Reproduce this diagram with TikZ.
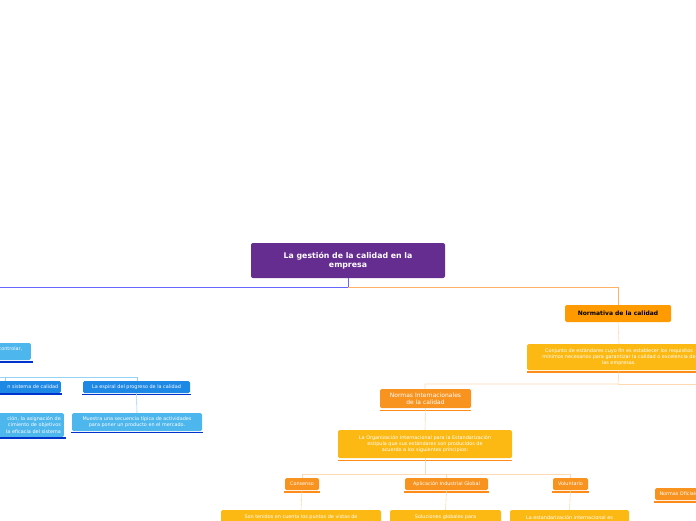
\documentclass[tikz,border=0pt]{standalone}
\usepackage{fontspec}
\setmainfont{DejaVu Sans}
\usetikzlibrary{positioning}
\definecolor{rootpurple}{HTML}{662D91}
\definecolor{orgA}{HTML}{FF9A00}
\definecolor{orgB}{HTML}{F7931E}
\definecolor{yelB}{HTML}{FDB913}
\definecolor{bluA}{HTML}{1E88E5}
\definecolor{bluL}{HTML}{4DB6EC}
\definecolor{bluD}{HTML}{0033CC}
\begin{document}
\begin{tikzpicture}[x=1pt,y=-1pt,
        % styles of the boxes
        rootnode/.style={rectangle, rounded corners=2pt, fill=rootpurple, text=white, font=\bfseries\fontsize{7.8}{9.5}\selectfont, align=center, minimum width=194pt, minimum height=35pt},
        topicnode/.style={rectangle, rounded corners=1.5pt, fill=orgA, text=black, font=\bfseries\fontsize{6}{7}\selectfont, minimum width=106pt, minimum height=17pt},
        ornode/.style={rectangle, rounded corners=1.5pt, fill=orgB, text=white, font=\fontsize{4.9}{5.8}\selectfont, align=center, inner sep=1.5pt},
        yenode/.style={rectangle, rounded corners=1.5pt, fill=yelB, text=white, font=\fontsize{4.9}{6.2}\selectfont, align=center, inner sep=1.5pt},
        blnode/.style={rectangle, rounded corners=1.5pt, fill=bluA, text=white, font=\fontsize{4.9}{5.8}\selectfont, align=center, inner sep=1.5pt},
        lbnode/.style={rectangle, rounded corners=1.5pt, fill=bluL, text=white, font=\fontsize{4.9}{6.2}\selectfont, align=center, inner sep=1.5pt},
        % lines
        oline/.style={draw=orange!60, line width=0.6pt},
        yline/.style={draw=orange!30, line width=0.6pt},
        bline/.style={draw=blue!60, line width=0.6pt},
        lbline/.style={draw=bluL!60, line width=0.6pt}
    ]
    \useasboundingbox (0,0) rectangle (696,520);

    % Root
    \node[rootnode] (root) at (348,260.5) {La gestión de la calidad en la\\empresa};
    \coordinate (rj) at (348,287);
    \draw[bline] (root.south) -- (rj) -- (-10,287);
    \draw[oline] (rj) -- (618,287) -- (618,305);

    % Orange branch
    \node[topicnode] (norm) at (618,313.5) {Normativa de la calidad};
    \node[yenode, minimum width=184pt, minimum height=26pt] (conj) at (619,357)
        {Conjunto de estándares cuyo fin es establecer los requisitos\\mínimos necesarios para garantizar la calidad o excelencia de\\las empresas.};
    \fill[orange!90] (conj.south west) ++(0,1) rectangle ([yshift=-2.5pt]conj.south east);
    \draw[yline] (norm.south) -- (conj.north);
    \coordinate (cj) at (618,384);
    \draw[yline] (conj.south) -- (cj) -- (425,384) -- (425,389);
    \draw[yline] (cj) -- (700,384);

    \node[ornode, font=\fontsize{6}{7}\selectfont, minimum width=91pt, minimum height=19pt] (inter) at (425.5,398.5) {Normas Internacionales\\de la calidad};
    \fill[orange!90] (inter.south west) ++(0,1.5) rectangle ([yshift=-3pt]inter.south east);
    \node[yenode, minimum width=174pt, minimum height=28pt] (iso) at (425,444)
        {La Organización Internacional para la Estandarización\\estipula que sus estándares son producidos de\\acuerdo a los siguientes principios:};
    \fill[orange!90] (iso.south west) ++(0,1.5) rectangle ([yshift=-3pt]iso.south east);
    \draw[yline] (inter.south) -- (iso.north);
    \coordinate (ij) at (425,474);
    \draw[yline] (iso.south) -- (ij) -- (302,474) -- (302,478);
    \draw[yline] (ij) -- (570,474) -- (570,478);
    \draw[yline] (ij) -- (446,474) -- (446,478);

    \node[ornode, minimum width=34pt, minimum height=12pt] (cons) at (302,484) {Consenso};
    \node[ornode, minimum width=83pt, minimum height=12pt] (apli) at (446.5,484) {Aplicación Industrial Global};
    \node[ornode, minimum width=35pt, minimum height=12pt] (volu) at (570.5,484) {Voluntario};
    \node[ornode, minimum width=50pt, minimum height=12pt, anchor=west] (ofic) at (655,494) {Normas Oficiales};
    \foreach \n in {cons,apli,volu,ofic}
        \fill[orange!90] (\n.south west) ++(-1,1) rectangle ([xshift=1pt,yshift=-2.5pt]\n.south east);

    \node[yenode, minimum width=160pt, minimum height=20pt, anchor=north] (cons1) at (301,510) {Son tenidos en cuenta los puntos de vistas de\\ \phantom{x}};
    \node[yenode, minimum width=111pt, minimum height=20pt, anchor=north] (apli1) at (445.5,510) {Soluciones globales para\\ \phantom{x}};
    \node[yenode, minimum width=119pt, minimum height=20pt, anchor=north] (volu1) at (569.5,510) {La estandarización internacional es\\ \phantom{x}};
    \draw[yline] (cons.south) -- (cons1.north);
    \draw[yline] (apli.south) -- (apli1.north);
    \draw[yline] (volu.south) -- (volu1.north);

    % Blue branch
    \node[lbnode, anchor=east, minimum width=45pt, minimum height=17pt, align=right] (ctrl) at (31,351.5) {controlar,\\n.\phantom{xxxxxxxx}};
    \fill[bluD] (-10,361) rectangle (33,363);
    \coordinate (bj) at (137,377);
    \draw[lbline] (-10,377) -- (bj) -- (137,381);
    \draw[lbline] (5,377) -- (5,381);

    \node[blnode, anchor=east, minimum width=75pt, minimum height=12pt, align=right, text width=70pt] (sist) at (61,387) {n sistema de calidad};
    \node[blnode, minimum width=107pt, minimum height=12pt] (espi) at (136.5,387) {La espiral del progreso de la calidad};
    \fill[bluD] (-10,393) rectangle (62,395);
    \fill[bluD] (espi.south west) ++(-1,1) rectangle ([xshift=1pt,yshift=-2pt]espi.south east);

    \node[lbnode, anchor=east, minimum width=78pt, minimum height=24pt, align=right, text width=72pt] (asig) at (64,425) {ción, la asignación de\\cimiento de objetivos\\la eficacia del sistema};
    \node[lbnode, minimum width=130pt, minimum height=18pt] (mues) at (137,422) {Muestra una secuencia típica de actividades\\para poner un producto en el mercado.};
    \fill[bluD] (-10,437) rectangle (66,439);
    \fill[bluD] (mues.south west) ++(-1,1) rectangle ([xshift=1pt,yshift=-2pt]mues.south east);
    \draw[lbline] (espi.south) -- (mues.north);
\end{tikzpicture}
\end{document}
